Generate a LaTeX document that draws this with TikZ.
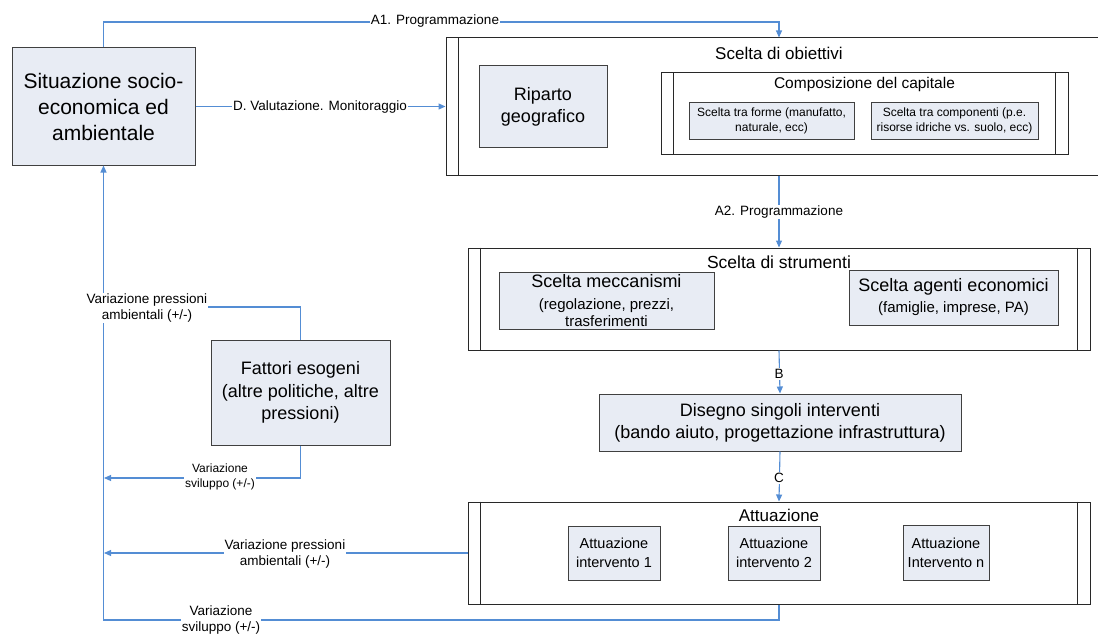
\documentclass[tikz,border=0pt]{standalone}
\usepackage{fontspec}
\setmainfont{Liberation Sans}
\usetikzlibrary{arrows.meta,calc}
\definecolor{connc}{RGB}{84,141,212}
\definecolor{boxfill}{RGB}{232,236,244}
\definecolor{boxline}{RGB}{64,64,64}
\definecolor{contline}{RGB}{40,40,40}
\newcommand{\fsz}[2]{\fontsize{#1}{#2}\selectfont}
\begin{document}
\begin{tikzpicture}[x=1pt,y=-1pt,
  fbox/.style={draw=boxline,fill=boxfill,line width=1pt,inner sep=0pt,align=center},
  cbox/.style={draw=contline,fill=white,line width=1pt,inner sep=0pt},
  conn/.style={draw=connc,line width=1.1pt},
  arr/.style={conn,-{Triangle[length=7pt,width=6pt]}},
  lbl/.style={fill=white,inner sep=1pt,align=center,font=\fsz{13.5}{16}},
  ttl/.style={inner sep=0pt,align=center}]
\useasboundingbox (0,0) rectangle (1098,634);
\clip (0,0) rectangle (1098,634);

% containers
\node[cbox,minimum width=666pt,minimum height=137pt] (obj) at (779,106.5) {};
\draw[contline,line width=1pt] ([xshift=13pt]obj.north west) -- ([xshift=13pt]obj.south west);
\node[ttl,font=\fsz{17}{20}] (objt) at (779,53) {Scelta di obiettivi};

\node[cbox,minimum width=407pt,minimum height=81pt] (comp) at (864.5,113.5) {};
\draw[contline,line width=1pt] ([xshift=13pt]comp.north west) -- ([xshift=13pt]comp.south west);
\draw[contline,line width=1pt] ([xshift=-13pt]comp.north east) -- ([xshift=-13pt]comp.south east);
\node[ttl,font=\fsz{15.5}{18}] (compt) at (864.5,84) {Composizione del capitale};

\node[cbox,minimum width=622pt,minimum height=102pt] (str) at (779,299) {};
\draw[contline,line width=1pt] ([xshift=13pt]str.north west) -- ([xshift=13pt]str.south west);
\draw[contline,line width=1pt] ([xshift=-13pt]str.north east) -- ([xshift=-13pt]str.south east);
\node[ttl,font=\fsz{17.5}{20}] (strt) at (779,262) {Scelta di strumenti};

\node[cbox,minimum width=622pt,minimum height=102pt] (att) at (779,553) {};
\draw[contline,line width=1pt] ([xshift=13pt]att.north west) -- ([xshift=13pt]att.south west);
\draw[contline,line width=1pt] ([xshift=-13pt]att.north east) -- ([xshift=-13pt]att.south east);
\node[ttl,font=\fsz{17}{20}] (attt) at (779,515) {Attuazione};

% filled boxes
\node[fbox,minimum width=183pt,minimum height=117pt,font=\fsz{21}{26}] (sit) at (103.5,106.5)
  {Situazione socio-\\economica ed\\ambientale};
\node[fbox,minimum width=128pt,minimum height=81pt,font=\fsz{18}{22}] (rip) at (543,106.5)
  {Riparto\\geografico};
\node[fbox,minimum width=165pt,minimum height=37pt,font=\fsz{12}{15}] (forme) at (771.5,120.5)
  {Scelta tra forme (manufatto,\\naturale, ecc)};
\node[fbox,minimum width=167pt,minimum height=37pt,font=\fsz{12}{15}] (compo) at (954.5,120.5)
  {Scelta tra componenti (p.e.\\risorse idriche vs. suolo, ecc)};
\node[fbox,minimum width=215pt,minimum height=57pt,font=\fsz{15}{16.5}] (mecc) at (606.5,300.5)
  {{\fsz{18}{21}Scelta meccanismi}\\[5.5pt](regolazione, prezzi,\\trasferimenti};
\node[fbox,minimum width=209pt,minimum height=55pt,font=\fsz{15}{17}] (agen) at (953.5,297.5)
  {{\fsz{18}{21}Scelta agenti economici}\\[4pt](famiglie, imprese, PA)};
\node[fbox,minimum width=179pt,minimum height=105pt,font=\fsz{18}{22.5}] (fat) at (300.5,392.5)
  {Fattori esogeni\\(altre politiche, altre\\pressioni)};
\node[fbox,minimum width=362pt,minimum height=57pt,font=\fsz{18}{21.7}] (dis) at (780,422.5)
  {Disegno singoli interventi\\(bando aiuto, progettazione infrastruttura)};
\node[fbox,minimum width=92pt,minimum height=54pt,font=\fsz{14.5}{18.7}] (att1) at (614,553)
  {Attuazione\\intervento 1};
\node[fbox,minimum width=92pt,minimum height=54pt,font=\fsz{14.5}{18.7}] (att2) at (774,553)
  {Attuazione\\intervento 2};
\node[fbox,minimum width=86pt,minimum height=55pt,font=\fsz{14.5}{18.7}] (attn) at (946,553)
  {Attuazione\\Intervento n};

% junction coordinates
\coordinate (jA) at (104,22);
\coordinate (j1) at (104,307);
\coordinate (j2) at (104,478);
\coordinate (j3) at (104,553);
\coordinate (j4) at (779,620);

% connectors
\draw[arr] (sit.north) |- (jA) -| (obj.north);
\draw[arr] (sit.east) -- (obj.west);
\draw[arr] (obj.south) -- (str.north);
\draw[arr] (str.south) -- (dis.north);
\draw[arr] (dis.south) -- (att.north);
\draw[arr] (att.west) -- (j3);
\draw[arr] (att.south) -- (j4) -| (sit.south);
\draw[conn] (fat.north) |- (j1);
\draw[arr] (fat.south) |- (j2);

% labels
\node[lbl] (lA1) at (435,21) {A1. Programmazione};
\node[lbl] (lD) at (320,107) {D. Valutazione. Monitoraggio};
\node[lbl] (lA2) at (779,212) {A2. Programmazione};
\node[lbl] (lB) at (779,374) {B};
\node[lbl] (lC) at (779,478) {C};
\node[lbl] (lvp1) at (147,308) {Variazione pressioni\\ambientali (+/-)};
\node[lbl,font=\fsz{12}{15}] (lvs1) at (220,477) {Variazione\\sviluppo (+/-)};
\node[lbl] (lvp2) at (285,554) {Variazione pressioni\\ambientali (+/-)};
\node[lbl] (lvs2) at (221,620) {Variazione\\sviluppo (+/-)};
\end{tikzpicture}
\end{document}
